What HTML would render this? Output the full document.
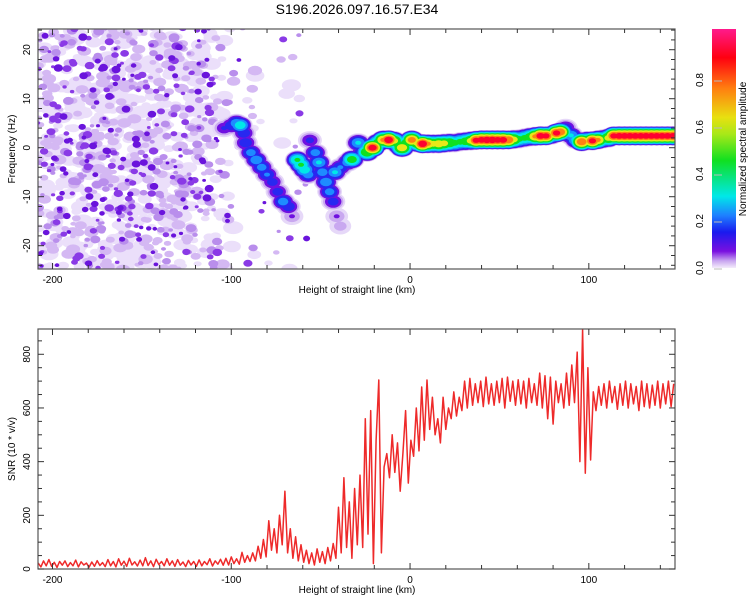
<!DOCTYPE html>
<html><head><meta charset="utf-8"><style>
body{margin:0;background:#fff;}
svg{display:block;font-family:"Liberation Sans",sans-serif;}
</style></head><body>
<svg id="fig" width="750" height="600" viewBox="0 0 750 600">
<defs>
<linearGradient id="cb" x1="0" y1="1" x2="0" y2="0">
<stop offset="0" stop-color="#f4ecfb"/><stop offset="0.03" stop-color="#c9a6f0"/>
<stop offset="0.07" stop-color="#7a10e0"/><stop offset="0.15" stop-color="#1a1aee"/>
<stop offset="0.22" stop-color="#1e80ff"/><stop offset="0.3" stop-color="#00e8e8"/>
<stop offset="0.45" stop-color="#10e020"/><stop offset="0.56" stop-color="#a8e818"/>
<stop offset="0.63" stop-color="#e8e010"/><stop offset="0.75" stop-color="#ff8010"/>
<stop offset="0.88" stop-color="#ff0010"/><stop offset="1" stop-color="#ff1a8c"/>
</linearGradient>
<clipPath id="clipTop"><rect x="38" y="29" width="637" height="240"/></clipPath>
<clipPath id="clipBot"><rect x="38" y="329" width="637" height="240"/></clipPath>
</defs>
<text x="357" y="14" text-anchor="middle" font-size="14">S196.2026.097.16.57.E34</text>
<g id="heat" clip-path="url(#clipTop)"></g>
<g id="topAxes"></g>
<rect x="712" y="29" width="24" height="239" fill="url(#cb)"/>
<g id="cbAxis"></g>
<text transform="translate(746,149) rotate(-90)" text-anchor="middle" font-size="10">Normalized spectral amplitude</text>
<text transform="translate(15,149) rotate(-90)" text-anchor="middle" font-size="10">Frequency (Hz)</text>
<text x="357" y="293" text-anchor="middle" font-size="10">Height of straight line (km)</text>
<g id="snr" clip-path="url(#clipBot)"></g>
<g id="botAxes"></g>
<text transform="translate(15,449) rotate(-90)" text-anchor="middle" font-size="10">SNR (10 * v/v)</text>
<text x="357" y="593" text-anchor="middle" font-size="10">Height of straight line (km)</text>
</svg>
<script>
// ---- data ----
const ridgeH=[-104,-100,-97,-95,-93,-92,-89,-86,-83,-80,-77,-74,-71,-68,-66,-63,-61,-59,-57,-56,-53,-51,-49,-47,-45,-43,-41,-39,-42,-39,-35,-32.5,-29,-27,-24,-21,-18,-15,-12,-9,-6,-4.5,-2,1,4,7,10,13,16,19,22,25,28,31,34,37,40,43,46,49,52,55,58,61,64,67,70,73,76,79,82,84,87,90,93,96,99,102,105,108,111,114,117,120,123,126,129,132,135,138,141,144,147];
const ridgeF=[4,4.5,5,4.6,3,1,-1,-2.5,-4,-5.5,-7,-9,-11,-12,-14,-2.5,-3.5,-4.5,-5.5,1.5,-1,-3,-5,-7,-9,-11,-14,-16,-5,-4,-3,-2.4,1,-1,-0.9,0,1,1.6,1.6,1.4,0.5,0,1,1.6,1,0.8,0.8,0.8,0.8,0.9,1,1,1.2,1.3,1.4,1.5,1.6,1.6,1.6,1.6,1.6,1.6,1.7,1.8,2,2.2,2.3,2.4,2.4,2.6,3,3.2,4,2.5,1.6,1.2,1.4,1.4,1.6,1.8,2,2.4,2.4,2.4,2.4,2.4,2.4,2.4,2.4,2.4,2.4,2.4,2.4];
const ridgeA=[0.15,0.2,0.28,0.36,0.2,0.2,0.25,0.28,0.25,0.22,0.18,0.18,0.26,0.2,0.1,0.42,0.42,0.36,0.26,0.16,0.25,0.3,0.26,0.28,0.25,0.18,0.1,0.08,0.3,0.22,0.26,0.48,0.3,0.22,0.55,0.88,0.5,0.7,0.9,0.6,0.5,0.65,0.5,0.75,0.6,0.9,0.7,0.6,0.65,0.6,0.55,0.45,0.45,0.5,0.6,0.85,0.88,0.9,0.9,0.88,0.88,0.8,0.6,0.45,0.45,0.5,0.7,0.88,0.85,0.5,0.85,0.8,0.2,0.3,0.35,0.8,0.6,0.85,0.7,0.5,0.6,0.85,0.88,0.88,0.88,0.88,0.88,0.88,0.88,0.88,0.88,0.88,0.88];
const snrStart=-208, snrStep=1.5;
const snrValues=[22,8,30,12,35,10,25,6,28,14, 30,9,24,12,33,8,27,15,22,7, 26,10,31,13,24,9,35,12,28,8, 38,14,29,10,40,15,27,11,33,12,
42,13,30,9,36,16,28,12,38,14, 30,10,35,14,26,9,32,15,28,10, 34,12,28,16,38,11,30,18,36,14, 40,15,45,20,38,18,62,25,50,28,
60,30,85,40,110,45,180,70,150,60, 200,90,290,60,150,40,120,30,90,25, 70,20,60,15,75,25,65,20,80,30, 95,40,230,60,340,80,250,40,300,90,
350,80,560,130,590,20,480,704,60,380, 430,340,500,360,470,290,430,590,320,480, 420,600,440,678,480,704,520,640,500,560, 470,640,520,600,560,660,570,640,590,700,
600,710,610,690,620,700,605,715,615,690, 610,700,620,710,600,715,625,700,610,705, 615,700,600,710,620,690,610,730,600,720, 560,715,540,700,620,690,600,730,610,760,
620,808,400,894,357,750,406,660,590,680, 610,690,600,700,620,680,595,690,610,700, 600,690,615,680,590,700,605,690,600,685, 610,700,600,690,615,700,605,690];
const xTicks=[-200,-100,0,100];
const topYTicks=[-20,-10,0,10,20];
const botYTicks=[0,200,400,600,800];
const cbTicks=[0.0,0.2,0.4,0.6,0.8];

// ---- scales ----
const X0=38,X1=675,HMIN=-208.1,HMAX=148.2;
const xs=h=>X0+(h-HMIN)/(HMAX-HMIN)*(X1-X0);
const yf=f=>147.7-f*4.9;
const ys=v=>569-v*0.2684;
const yc=a=>268-a*235;
const NS="http://www.w3.org/2000/svg";
function mk(tag,attrs,parent){const e=document.createElementNS(NS,tag);for(const k in attrs)e.setAttribute(k,attrs[k]);parent.appendChild(e);return e;}

// ---- background clutter texture (speckle) ----
const heat=document.getElementById('heat');
let seed=987654;const rnd=()=>{seed=(seed*1103515245+12345)%2147483648;return seed/2147483648;};
const layers=[["#ebdffa",520,7,4.5],["#d4b8f3",360,5,3.4],["#b98eec",220,3.8,2.8],["#8a3ae6",150,3.4,2.6],["#6a14dc",120,3.2,2.6]];
for(const [col,n,rx,ry] of layers){
  for(let i=0;i<n;i++){
    let h=HMIN+rnd()*118;
    if(h>-118){ if(rnd()<(h+118)/22) { if(rnd()<0.85) continue; h=-100+rnd()*45; } }
    const f=-25+rnd()*50;
    const s=0.55+rnd()*0.9;
    const e=mk('ellipse',{cx:xs(h).toFixed(1),cy:yf(f).toFixed(1),rx:(rx*s).toFixed(1),ry:(ry*s).toFixed(1),fill:col},heat);
    
    
  }
}
// ---- ridge ----
const levels=[0.02,0.06,0.1,0.15,0.22,0.3,0.42,0.56,0.7,0.82];
const lcol=["#e6d8f8","#c9a8f0","#7010e0","#2828f0","#1e8cff","#00e8e8","#10e020","#e8e818","#ff8010","#ff0030"];
for(let k=0;k<levels.length;k++){
  for(let i=0;i<ridgeH.length;i++){
    const a=ridgeA[i];if(levels[k]>a)continue;
    const t=Math.pow(1-levels[k]/a,0.8);
    const e=mk('ellipse',{cx:xs(ridgeH[i]).toFixed(1),cy:yf(ridgeF[i]).toFixed(1),rx:(3+10*t).toFixed(1),ry:(2+8*t).toFixed(1),fill:lcol[k]},heat);
    
    
  }
}
// ---- SNR line ----
const snr=document.getElementById('snr');
let d='';snrValues.forEach((v,i)=>{d+=(i?'L':'M')+xs(snrStart+i*snrStep).toFixed(1)+','+ys(v).toFixed(1);});
const ln=mk('path',{d:d,fill:'none',stroke:'#ee2a2a','stroke-width':1.5,'stroke-linejoin':'round'},snr);



// ---- axes ----
function axes(g,top,bot,yMinor,yMajor,yfun,yLabels,yMinV,yMaxV){
  const fr=mk('rect',{x:X0,y:top,width:X1-X0,height:bot-top,fill:'none',stroke:'#555','stroke-width':1.2},g);
  
  for(let h=-200;h<=140;h+=20){
    const x=xs(h),L=(h%100===0)?6:4;
    mk('line',{x1:x,y1:bot,x2:x,y2:bot-L,stroke:'#333'},g);
    mk('line',{x1:x,y1:top,x2:x,y2:top+L,stroke:'#333'},g);
  }
  for(let v=Math.ceil(yMinV/yMinor)*yMinor;v<=yMaxV;v+=yMinor){
    const y=yfun(v);if(y<top||y>bot)continue;const L=(Math.abs(v%yMajor)<1e-6)?6:4;
    mk('line',{x1:X0,y1:y,x2:X0+L,y2:y,stroke:'#333'},g);
    mk('line',{x1:X1,y1:y,x2:X1-L,y2:y,stroke:'#333'},g);
  }
  xTicks.forEach(h=>{const t=mk('text',{x:xs(h),y:bot+14,'text-anchor':'middle','font-size':10},g);t.textContent=h;
    });
  yLabels.forEach(v=>{const t=mk('text',{transform:`translate(30,${yfun(v)}) rotate(-90)`,'text-anchor':'middle','font-size':10},g);t.textContent=v;
    });
}
axes(document.getElementById('topAxes'),29,269,2,10,yf,topYTicks,-26,26);
axes(document.getElementById('botAxes'),329,569,50,200,ys,botYTicks,0,900);
const cba=document.getElementById('cbAxis');
cbTicks.forEach(a=>{const t=mk('text',{transform:`translate(703,${yc(a)}) rotate(-90)`,'text-anchor':'middle','font-size':10},cba);t.textContent=a.toFixed(1);
  
  mk('line',{x1:714,y1:yc(a)+1,x2:722,y2:yc(a)+1,stroke:'#bbb'},cba);});
</script>
</body></html>
